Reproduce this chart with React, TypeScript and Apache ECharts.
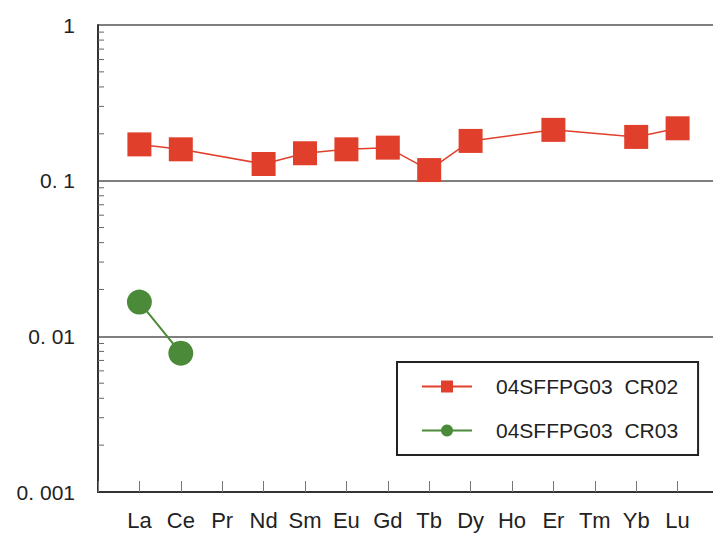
import React, { useEffect, useRef } from "react";
import * as echarts from "echarts";

const elements = ["La", "Ce", "Pr", "Nd", "Sm", "Eu", "Gd", "Tb", "Dy", "Ho", "Er", "Tm", "Yb", "Lu"];
const cr02: (number | null)[] = [0.171, 0.159, null, 0.128, 0.15, 0.159, 0.163, 0.117, 0.18, null, 0.212, null, 0.191, 0.217];
const cr03: (number | null)[] = [0.0166, 0.0078, null, null, null, null, null, null, null, null, null, null, null, null];
const yTickLabels: Record<string, string> = { "0.001": "0. 001", "0.01": "0. 01", "0.1": "0. 1", "1": "1" };
const minorTickValues = [
  0.002, 0.003, 0.004, 0.005, 0.006, 0.007, 0.008, 0.009,
  0.02, 0.03, 0.04, 0.05, 0.06, 0.07, 0.08, 0.09,
  0.2, 0.3, 0.4, 0.5, 0.6, 0.7, 0.8, 0.9,
];
const seriesNames = ["04SFFPG03  CR02", "04SFFPG03  CR03"];

const FONT = "'Liberation Sans', Arial, sans-serif";

export default function App() {
  const ref = useRef<HTMLDivElement>(null);
  useEffect(() => {
    if (!ref.current) return;
    const chart = echarts.init(ref.current, null, { renderer: "svg" });
    const cats = ["", ...elements, ""];
    const pad = (a: (number | null)[]) => [null, ...a, null];
    chart.setOption({
      animation: false,
      backgroundColor: "#ffffff",
      textStyle: { fontFamily: FONT },
      grid: { left: 98, top: 25, bottom: 48, right: -6, outerBoundsMode: "none", containLabel: false },
      xAxis: {
        type: "category",
        data: cats,
        boundaryGap: false,
        axisLine: { show: true, lineStyle: { color: "#333", width: 2 } },
        axisTick: { show: true, inside: true, length: 11, interval: 0, lineStyle: { color: "#777", width: 1 } },
        axisLabel: { interval: 0, margin: 17, fontSize: 22, color: "#222", fontFamily: FONT },
        splitLine: { show: false },
      },
      yAxis: {
        type: "log",
        logBase: 10,
        min: 0.001,
        max: 1,
        axisLine: { show: true, lineStyle: { color: "#333", width: 2 } },
        axisTick: { show: false },
        axisLabel: {
          margin: 23,
          fontSize: 21,
          color: "#222",
          fontFamily: FONT,
          formatter: (v: number) => {
            const k = String(+v.toPrecision(3));
            return yTickLabels[k] ?? k;
          },
        },
        splitLine: { show: true, lineStyle: { color: "#555", width: 1.5 } },
      },
      legend: {
        data: seriesNames,
        orient: "vertical",
        left: 397,
        top: 362,
        backgroundColor: "#ffffff",
        borderColor: "#222",
        borderWidth: 2,
        borderRadius: 0,
        padding: [14, 20, 14, 24],
        itemGap: 23,
        itemWidth: 50,
        itemHeight: 15,
        textStyle: { fontSize: 21, color: "#222", fontFamily: FONT, padding: [0, 0, 0, 19] },
      },
      series: [
        {
          name: seriesNames[0],
          type: "line",
          data: pad(cr02),
          connectNulls: true,
          symbol: "rect",
          symbolSize: 24,
          itemStyle: { color: "#e0402b" },
          lineStyle: { color: "#e0402b", width: 1.5 },
          z: 3,
        },
        {
          name: seriesNames[1],
          type: "line",
          data: pad(cr03),
          connectNulls: false,
          symbol: "circle",
          symbolSize: 25,
          itemStyle: { color: "#4b8a38" },
          lineStyle: { color: "#4b8a38", width: 2 },
          z: 3,
        },
        {
          name: "minorTicks",
          type: "custom",
          silent: true,
          data: minorTickValues.map((v) => [0, v]),
          renderItem: (_params: any, api: any) => {
            const p = api.coord([0, api.value(1)]);
            return {
              type: "line",
              shape: { x1: p[0], y1: p[1], x2: p[0] + 6, y2: p[1] },
              style: { stroke: "#666", lineWidth: 1 },
            };
          },
          z: 1,
        },
      ],
    });
    return () => chart.dispose();
  }, []);
  return <div ref={ref} style={{ position: "fixed", left: 0, top: 0, width: 713, height: 540 }} />;
}
